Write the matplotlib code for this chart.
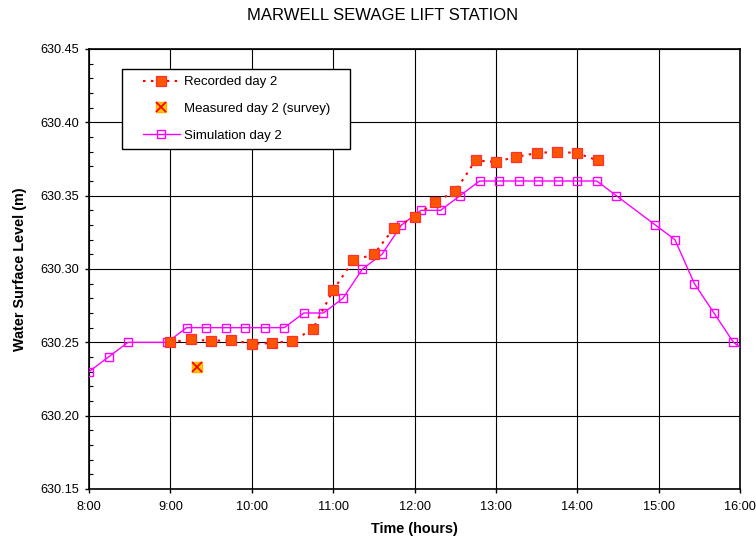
import matplotlib
matplotlib.use('Agg')
import matplotlib.pyplot as plt
from matplotlib.ticker import MultipleLocator, FormatStrFormatter
from matplotlib.legend_handler import HandlerTuple
from matplotlib.patches import Rectangle
from matplotlib.transforms import IdentityTransform

plt.rcParams['font.family'] = ['Liberation Sans', 'DejaVu Sans']

# recorded water level, day 2 (time in decimal hours)
rec_time = [9.0, 9.25, 9.5, 9.75, 10.0, 10.25, 10.5, 10.75, 11.0, 11.25, 11.5,
            11.75, 12.0, 12.25, 12.5, 12.75, 13.0, 13.25, 13.5, 13.75, 14.0, 14.25]
rec_level = [630.250, 630.252, 630.251, 630.2515, 630.249, 630.2495, 630.251,
             630.259, 630.2855, 630.306, 630.310, 630.328, 630.3355, 630.3455,
             630.353, 630.374, 630.373, 630.3765, 630.379, 630.380, 630.379, 630.374]

# survey measurement
meas_time = [9.33]
meas_level = [630.233]

# simulation, day 2
sim_time = [8.0, 8.24, 8.48, 8.96, 9.20, 9.44, 9.68, 9.92, 10.16, 10.40, 10.64,
            10.88, 11.12, 11.36, 11.60, 11.84, 12.08, 12.32, 12.56, 12.80, 13.04,
            13.28, 13.52, 13.76, 14.00, 14.24, 14.48, 14.96, 15.20, 15.44, 15.68,
            15.92, 16.16]
sim_level = [630.23, 630.24, 630.25, 630.25, 630.26, 630.26, 630.26, 630.26,
             630.26, 630.26, 630.27, 630.27, 630.28, 630.30, 630.31, 630.33,
             630.34, 630.34, 630.35, 630.36, 630.36, 630.36, 630.36, 630.36,
             630.36, 630.36, 630.35, 630.33, 630.32, 630.29, 630.27, 630.25, 630.24]

hour_ticks = list(range(8, 17))
hour_labels = [f'{h}:00' for h in hour_ticks]

fig = plt.figure(figsize=(7.56, 5.37), dpi=100)
ax = fig.add_axes([89/756, 1 - 489/537, 651/756, 440/537])

ax.grid(True, which='major', color='black', lw=0.8)
ax.set_axisbelow(True)

sim_line, = ax.plot(sim_time, sim_level, color='#FF00FF', lw=1.0, marker='s',
                    markersize=5.3, markerfacecolor='none', markeredgecolor='#FF00FF',
                    markeredgewidth=1.0, label='Simulation day 2', zorder=3)
rec_line, = ax.plot(rec_time, rec_level, color='#FF0000', lw=1.5,
                    linestyle=(0, (1.2, 2.6)), marker='s', markersize=6.8,
                    markerfacecolor='#FF5500', markeredgecolor='#FF3030',
                    markeredgewidth=0.9, label='Recorded day 2', zorder=4)
meas_sq, = ax.plot(meas_time, meas_level, linestyle='none', marker='s', markersize=7.2,
                   markerfacecolor='#FFCC00', markeredgecolor='#FFB000', zorder=5)
meas_x, = ax.plot(meas_time, meas_level, linestyle='none', marker='x', markersize=6.8,
                  markeredgecolor='#FF0000', markeredgewidth=1.3, zorder=6)

ax.set_xlim(8, 16)
ax.set_ylim(630.15, 630.45)
ax.set_xticks(hour_ticks)
ax.set_xticklabels(hour_labels)
ax.yaxis.set_major_locator(MultipleLocator(0.05))
ax.yaxis.set_minor_locator(MultipleLocator(0.01))
ax.yaxis.set_major_formatter(FormatStrFormatter('%.2f'))

ax.tick_params(axis='both', which='major', direction='out', length=3, width=1,
               labelsize=9.2, colors='black')
ax.tick_params(axis='y', which='major', pad=4)
ax.tick_params(axis='x', which='major', pad=6)
ax.tick_params(axis='y', which='minor', direction='in', length=3, width=0.8)
for s in ax.spines.values():
    s.set_linewidth(1.2)
    s.set_color('black')

ax.set_xlabel('Time (hours)', fontsize=10.4, fontweight='bold', labelpad=6)
ax.set_ylabel('Water Surface Level (m)', fontsize=10.4, fontweight='bold', labelpad=10)
fig.text(0.506, 1 - 15/537, 'MARWELL SEWAGE LIFT STATION', ha='center', va='center',
         fontsize=12)

leg = ax.legend([rec_line, (meas_sq, meas_x), sim_line],
                ['Recorded day 2', 'Measured day 2 (survey)', 'Simulation day 2'],
                handler_map={tuple: HandlerTuple(ndivide=1, pad=0)},
                loc='upper left', bbox_to_anchor=(143/756, 1 - 76/537),
                bbox_transform=fig.transFigure, frameon=False, fontsize=9.5,
                borderpad=0, borderaxespad=0, handlelength=2.8, handletextpad=0.3,
                labelspacing=1.1)
leg.set_zorder(10)

# legend frame with wider horizontal padding than matplotlib allows
fig.canvas.draw()
bb = leg.get_window_extent()
frame = Rectangle((bb.x0 - 21, bb.y0 - 7), bb.width + 41, bb.height + 14,
                  transform=IdentityTransform(), facecolor='white',
                  edgecolor='black', lw=1.0, zorder=9, clip_on=False)
ax.add_artist(frame)

fig.savefig('out.png', dpi=100)
